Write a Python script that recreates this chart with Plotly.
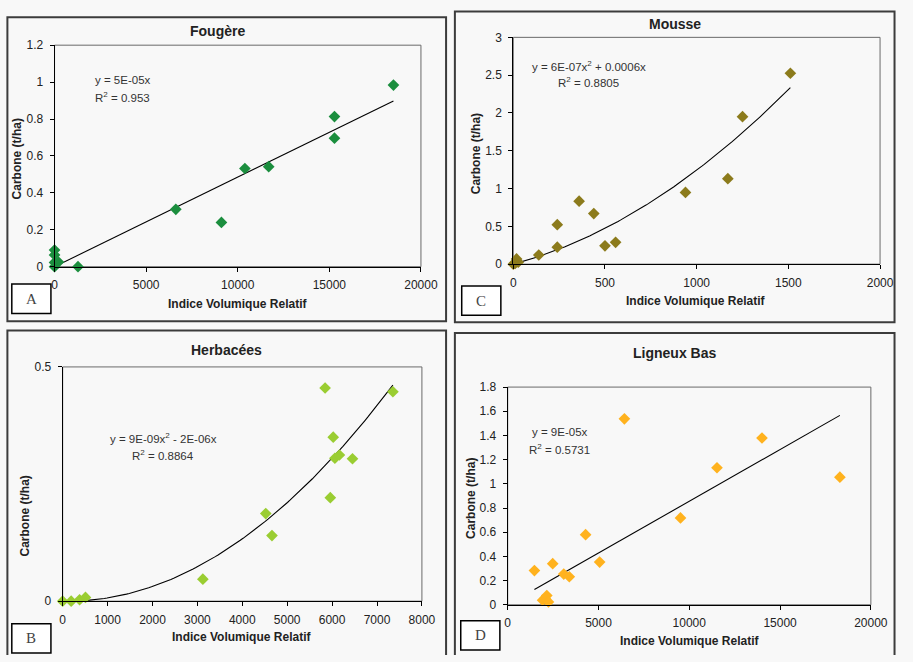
import numpy as np
import plotly.graph_objects as go

W, H = 913, 662

# ---------------- data ----------------
fougere_x = [0, 0, 0, 0, 213, 1280, 6620, 9110, 10390, 11690, 15280, 15280, 18500]
fougere_y = [0.09, 0.064, 0.023, 0.0, 0.025, 0.0, 0.311, 0.240, 0.532, 0.542, 0.813, 0.696, 0.984]

mousse_x = [0, 10, 18, 27, 139, 240, 240, 359, 439, 500, 558, 939, 1170, 1250, 1511]
mousse_y = [0.0, 0.01, 0.069, 0.026, 0.121, 0.522, 0.224, 0.833, 0.669, 0.242, 0.289, 0.949, 1.131, 1.951, 2.525]

herb_x = [0, 189, 377, 508, 3122, 4523, 4661, 5844, 5960, 6025, 6062, 6163, 6454, 7354]
herb_y = [0.0, 0.0, 0.003, 0.008, 0.047, 0.187, 0.140, 0.455, 0.221, 0.350, 0.305, 0.312, 0.304, 0.447]

lign_x = [1472, 1921, 2065, 2154, 2244, 2478, 3088, 3393, 4291, 5063, 6427, 9515, 11526, 14004, 18294]
lign_y = [0.283, 0.038, 0.051, 0.076, 0.024, 0.340, 0.254, 0.232, 0.580, 0.353, 1.538, 0.718, 1.133, 1.379, 1.055]

titles = ["Fougère", "Mousse", "Herbacées", "Ligneux Bas"]
letters = ["A", "C", "B", "D"]
equations = [
    ["y = 5E-05x", "R<sup>2</sup> = 0.953"],
    ["y = 6E-07x<sup>2</sup> + 0.0006x", "R<sup>2</sup> = 0.8805"],
    ["y = 9E-09x<sup>2</sup> - 2E-06x", "R<sup>2</sup> = 0.8864"],
    ["y = 9E-05x", "R<sup>2</sup> = 0.5731"],
]
x_ticks = [[0, 5000, 10000, 15000, 20000], [0, 500, 1000, 1500, 2000],
           [0, 1000, 2000, 3000, 4000, 5000, 6000, 7000, 8000], [0, 5000, 10000, 15000, 20000]]
y_ticks = [[0, 0.2, 0.4, 0.6, 0.8, 1, 1.2], [0, 0.5, 1, 1.5, 2, 2.5, 3],
           [0, 0.5], [0, 0.2, 0.4, 0.6, 0.8, 1, 1.2, 1.4, 1.6, 1.8]]
x_ranges = [[0, 20000], [0, 2000], [0, 8000], [0, 20000]]
y_ranges = [[0, 1.2], [0, 3], [0, 0.5], [0, 1.8]]
colors = ["#1B8E3E", "#8C7B1C", "#9ACD32", "#FFB21E"]
fit_kind = ["lin", "quad", "quad", "lin"]
xtitle = "Indice Volumique Relatif"
ytitle = "Carbone (t/ha)"

datasets = [(fougere_x, fougere_y), (mousse_x, mousse_y), (herb_x, herb_y), (lign_x, lign_y)]

# ---------------- layout geometry (pixels) ----------------
plot_px = [(52.7, 427.3, 39, 265.3), (521.7, 896.7, 31, 262.7),
           (61, 428.3, 367.7, 607), (516, 887.3, 388.3, 610.7)]
# (left, right, top, bottom or None when the border runs off the page)
panel_px = [(4.5, 453, 10.5, 321), (462, 911.5, 4.5, 322),
            (4.5, 453, 330.5, None), (462, 911.5, 333, None)]
letter_px = [(9, 49, 283, 313), (469, 509, 285, 315), (9, 49, 630, 660), (468, 508, 627, 657)]
title_px = [(219, 25), (687, 17), (228, 350), (687, 353)]
xt_px = [(240, 303), (708, 300), (244, 644), (702, 648)]
yt_px = [(14, 155), (483, 150), (22, 520), (479, 502)]
eq_px = [[(92, 75, "left"), (92, 92, "left")],
         [(599, 60, "center"), (599, 77, "center")],
         [(164, 440, "center"), (164, 458, "center")],
         [(569, 434, "center"), (569, 452, "center")]]


def px(x):
    return x / W


def py(y):
    return 1 - y / H


def fmt(v):
    return ("%g" % v)


FONT = "Liberation Sans, Arial, sans-serif"
BG = "#f8f8f8"

fig = go.Figure()
layout = dict(width=W, height=H, margin=dict(l=0, r=0, t=0, b=0),
              paper_bgcolor=BG, plot_bgcolor=BG, showlegend=False,
              font=dict(family=FONT, size=12, color="#222"))
shapes = []
annotations = []

for i, (xs, ys) in enumerate(datasets):
    n = "" if i == 0 else str(i + 1)
    xa, ya = "x" + n, "y" + n
    xarr = np.array(xs, dtype=float)
    yarr = np.array(ys, dtype=float)
    if fit_kind[i] == "lin":
        A = np.column_stack([xarr])
    else:
        A = np.column_stack([xarr ** 2, xarr])
    coef, *_ = np.linalg.lstsq(A, yarr, rcond=None)
    xf = np.linspace(xarr.min(), xarr.max(), 120)
    yf = coef[0] * xf if fit_kind[i] == "lin" else coef[0] * xf ** 2 + coef[1] * xf

    fig.add_trace(go.Scatter(x=xf, y=yf, mode="lines", line=dict(color="black", width=1.1),
                             xaxis=xa, yaxis=ya, hoverinfo="skip", cliponaxis=True))
    fig.add_trace(go.Scatter(x=xs, y=ys, mode="markers",
                             marker=dict(symbol="diamond", size=9, color=colors[i], line=dict(width=0)),
                             xaxis=xa, yaxis=ya, cliponaxis=False))

    x0, x1, y0, y1 = plot_px[i]
    layout["xaxis" + n] = dict(domain=[px(x0), px(x1)], range=x_ranges[i], anchor=ya,
                               tickvals=x_ticks[i], ticktext=[fmt(v) for v in x_ticks[i]],
                               showgrid=False, zeroline=False,
                               showline=True, linecolor="black", linewidth=1,
                               ticks="outside", ticklen=4, tickcolor="black",
                               tickfont=dict(size=12, color="#222", family=FONT),
                               ticklabelstandoff=3, fixedrange=True)
    layout["yaxis" + n] = dict(domain=[py(y1), py(y0)], range=y_ranges[i], anchor=xa,
                               tickvals=y_ticks[i], ticktext=[fmt(v) for v in y_ticks[i]],
                               showgrid=False, zeroline=False,
                               showline=True, linecolor="black", linewidth=1,
                               ticks="outside", ticklen=4, tickcolor="black",
                               tickfont=dict(size=12, color="#222", family=FONT),
                               ticklabelstandoff=4, fixedrange=True)
    # plot area frame (top/right)
    shapes.append(dict(type="rect", xref=xa + " domain", yref=ya + " domain",
                       x0=0, x1=1, y0=0, y1=1, line=dict(color="#6a6a6a", width=1), layer="below"))

    # panel border (kept inside the page)
    a0, a1, b0, b1 = panel_px[i]
    if b1 is not None:
        shapes.append(dict(type="rect", xref="paper", yref="paper", x0=px(a0), x1=px(a1),
                           y0=py(b1), y1=py(b0), line=dict(color="#3c3c3c", width=2)))
    else:
        path = "M %f,0 L %f,%f L %f,%f L %f,0" % (px(a0), px(a0), py(b0), px(a1), py(b0), px(a1))
        shapes.append(dict(type="path", xref="paper", yref="paper", path=path,
                           line=dict(color="#3c3c3c", width=2)))
    # letter box
    l0, l1, m0, m1 = letter_px[i]
    shapes.append(dict(type="rect", xref="paper", yref="paper", x0=px(l0), x1=px(l1),
                       y0=py(m1), y1=py(m0), line=dict(color="black", width=1.5),
                       fillcolor="white"))
    annotations.append(dict(text=letters[i], xref="paper", yref="paper",
                            x=px((l0 + l1) / 2), y=py((m0 + m1) / 2), showarrow=False,
                            xanchor="center", yanchor="middle",
                            font=dict(family="Liberation Serif, Times New Roman, serif", size=15, color="#444")))
    # title
    tx, ty = title_px[i]
    annotations.append(dict(text="<b>" + titles[i] + "</b>", xref="paper", yref="paper",
                            x=px(tx), y=py(ty), showarrow=False, xanchor="center", yanchor="middle",
                            font=dict(family=FONT, size=14, color="#222")))
    # axis titles
    xx, xy = xt_px[i]
    annotations.append(dict(text="<b>" + xtitle + "</b>", xref="paper", yref="paper",
                            x=px(xx), y=py(xy), showarrow=False, xanchor="center", yanchor="middle",
                            font=dict(family=FONT, size=12, color="#222")))
    yx, yy = yt_px[i]
    annotations.append(dict(text="<b>" + ytitle + "</b>", xref="paper", yref="paper",
                            x=px(yx), y=py(yy), showarrow=False, xanchor="center", yanchor="middle",
                            textangle=-90, font=dict(family=FONT, size=12, color="#222")))
    # equation labels
    for (ex, ey, al), txt in zip(eq_px[i], equations[i]):
        annotations.append(dict(text=txt, xref="paper", yref="paper", x=px(ex), y=py(ey),
                                showarrow=False, xanchor=al, yanchor="middle",
                                font=dict(family=FONT, size=11.5, color="#333")))

layout["shapes"] = shapes
layout["annotations"] = annotations
fig.update_layout(**layout)
fig.write_html("out.html")
